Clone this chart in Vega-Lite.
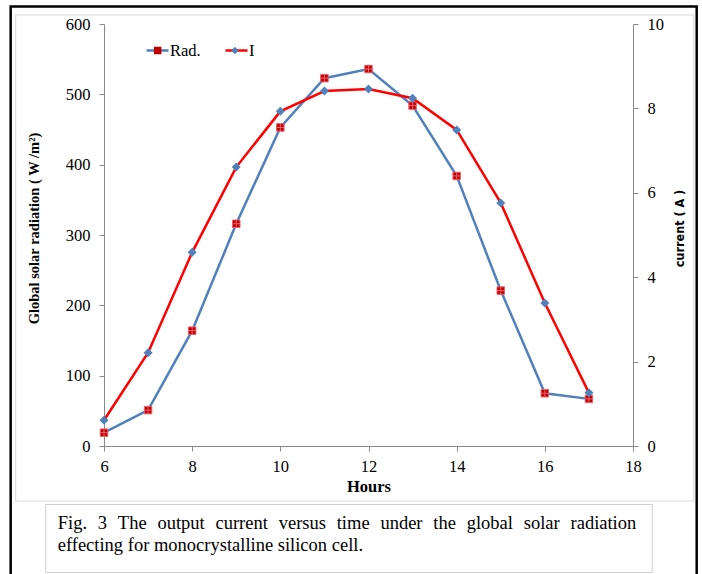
{
  "$schema": "https://vega.github.io/schema/vega-lite/v6.json",
  "width": 529,
  "height": 422,
  "autosize": {"type": "none"},
  "padding": {"left": 104, "top": 24, "right": 69, "bottom": 128},
  "background": "white",
  "config": {"view": {"stroke": null}, "font": "Liberation Serif"},
  "data": {
    "values": [
      {"hour": 6, "rad": 19, "current": 0.61},
      {"hour": 7, "rad": 51, "current": 2.21},
      {"hour": 8, "rad": 164, "current": 4.59},
      {"hour": 9, "rad": 316, "current": 6.61},
      {"hour": 10, "rad": 453, "current": 7.93},
      {"hour": 11, "rad": 523, "current": 8.41},
      {"hour": 12, "rad": 536, "current": 8.46},
      {"hour": 13, "rad": 484, "current": 8.24},
      {"hour": 14, "rad": 384, "current": 7.49},
      {"hour": 15, "rad": 221, "current": 5.76},
      {"hour": 16, "rad": 75, "current": 3.39},
      {"hour": 17, "rad": 67, "current": 1.26}
    ]
  },
  "layer": [
    {
      "layer": [
        {
          "data": {"values": [{"frame": "outer"}]},
          "mark": {"type": "rect", "fill": "transparent", "stroke": "#000000", "strokeWidth": 2.5},
          "encoding": {
            "x": {"datum": 3.883, "type": "quantitative", "scale": {"domain": [6, 18], "nice": false}},
            "x2": {"datum": 19.445},
            "y": {"datum": 624.9, "type": "quantitative", "scale": {"domain": [0, 600], "nice": false}},
            "y2": {"datum": -219}
          }
        },
        {
          "data": {"values": [{"frame": "inner"}]},
          "mark": {"type": "rect", "fill": "transparent", "stroke": "#D9D9D9", "strokeWidth": 1},
          "encoding": {
            "x": {"datum": 3.997, "type": "quantitative", "scale": {"domain": [6, 18], "nice": false}},
            "x2": {"datum": 19.377},
            "y": {"datum": 612.8, "type": "quantitative", "scale": {"domain": [0, 600], "nice": false}},
            "y2": {"datum": -78.2}
          }
        },
        {
          "data": {"values": [{"frame": "caption"}]},
          "mark": {"type": "rect", "fill": "transparent", "stroke": "#CFCFCF", "strokeWidth": 1},
          "encoding": {
            "x": {"datum": 4.678, "type": "quantitative", "scale": {"domain": [6, 18], "nice": false}},
            "x2": {"datum": 18.436},
            "y": {"datum": -83.2, "type": "quantitative", "scale": {"domain": [0, 600], "nice": false}},
            "y2": {"datum": -179.9}
          }
        },
        {
          "data": {"values": [{"caption": "Fig.\u2002\u200a3\u2002\u200aThe\u2002\u200aoutput\u2002\u200acurrent\u2002\u200aversus\u2002\u200atime\u2002\u200aunder\u2002\u200athe\u2002\u200aglobal\u2002\u200asolar\u2002\u200aradiation\neffecting for monocrystalline silicon cell."}]},
          "mark": {"type": "text", "align": "left", "baseline": "alphabetic", "lineBreak": "\n", "lineHeight": 22, "font": "Liberation Serif", "fontSize": 18.5, "color": "#000000"},
          "encoding": {
            "text": {"field": "caption", "type": "nominal"},
            "x": {"datum": 4.95, "type": "quantitative", "scale": {"domain": [6, 18], "nice": false}},
            "y": {"datum": -118, "type": "quantitative", "scale": {"domain": [0, 600], "nice": false}}
          }
        },
        {
          "mark": {"type": "line", "strokeWidth": 2.5},
          "encoding": {
            "x": {
              "field": "hour", "type": "quantitative",
              "scale": {"domain": [6, 18], "nice": false},
              "axis": {
                "values": [6, 8, 10, 12, 14, 16, 18], "title": "Hours", "grid": false,
                "labelFlush": false, "labelFont": "Liberation Serif", "labelFontSize": 16.5, "labelColor": "#000000", "labelPadding": 7,
                "tickSize": 5, "tickColor": "#898989", "domainColor": "#898989",
                "titleFont": "Liberation Serif", "titleFontSize": 16.5, "titleFontWeight": "bold", "titleColor": "#000000", "titlePadding": 4
              }
            },
            "y": {
              "field": "rad", "type": "quantitative",
              "scale": {"domain": [0, 600], "nice": false},
              "axis": {
                "values": [0, 100, 200, 300, 400, 500, 600], "title": "Global solar radiation ( W /m²)", "grid": false,
                "labelFlush": false, "labelFont": "Liberation Serif", "labelFontSize": 16.5, "labelColor": "#000000", "labelPadding": 9,
                "tickSize": 5, "tickColor": "#898989", "domainColor": "#898989",
                "titleFont": "Liberation Serif", "titleFontSize": 14.5, "titleFontWeight": "bold", "titleColor": "#000000", "titlePadding": 24, "titleY": 204
              }
            },
            "stroke": {
              "datum": "Rad.", "type": "nominal",
              "scale": {"domain": ["Rad.", "I"], "range": ["#4F81BD", "#FF0000"]},
              "legend": {
                "orient": "none", "legendX": 41, "legendY": 14, "direction": "horizontal", "title": null,
                "symbolType": "stroke", "symbolSize": 484, "symbolStrokeWidth": 2.5,
                "labelFont": "Liberation Serif", "labelFontSize": 16.5, "labelColor": "#000000", "labelOffset": 0,
                "columnPadding": 19, "padding": 0
              }
            }
          }
        },
        {
          "mark": {"type": "point", "filled": true, "opacity": 1, "size": 56, "stroke": "#E8606A", "strokeWidth": 1},
          "encoding": {
            "x": {"field": "hour", "type": "quantitative", "scale": {"domain": [6, 18], "nice": false}},
            "y": {"field": "rad", "type": "quantitative", "scale": {"domain": [0, 600], "nice": false}},
            "fill": {
              "datum": "Rad.", "type": "nominal",
              "scale": {"domain": ["I", "Rad."], "range": ["#4F81BD", "#C00000"]},
              "legend": {
                "orient": "none", "legendX": 45.4, "legendY": 18.2, "values": ["Rad.", "I"], "direction": "horizontal", "title": null,
                "symbolSize": 56, "symbolStrokeWidth": 0, "labelExpr": "''",
                "labelFont": "Liberation Serif", "labelFontSize": 16.5, "labelOffset": 0,
                "columnPadding": 60.3, "padding": 0
              }
            },
            "shape": {
              "datum": "Rad.", "type": "nominal",
              "scale": {"domain": ["I", "Rad."], "range": ["diamond", "M-1,-1H1V1H-1Z M-1,0H1 M0,-1V1"]},
              "legend": {
                "orient": "none", "legendX": 45.4, "legendY": 18.2, "values": ["Rad.", "I"], "direction": "horizontal", "title": null,
                "symbolSize": 56, "symbolStrokeWidth": 0, "labelExpr": "''",
                "labelFont": "Liberation Serif", "labelFontSize": 16.5, "labelOffset": 0,
                "columnPadding": 60.3, "padding": 0
              }
            }
          }
        }
      ]
    },
    {
      "layer": [
        {
          "mark": {"type": "line", "strokeWidth": 2.5},
          "encoding": {
            "x": {"field": "hour", "type": "quantitative", "scale": {"domain": [6, 18], "nice": false}},
            "y": {
              "field": "current", "type": "quantitative",
              "scale": {"domain": [0, 10], "nice": false},
              "axis": {
                "orient": "right", "values": [0, 2, 4, 6, 8, 10], "title": "current ( A )", "grid": false,
                "labelFlush": false, "labelFont": "Liberation Serif", "labelFontSize": 16.5, "labelColor": "#000000", "labelPadding": 9,
                "tickSize": 5, "tickColor": "#898989", "domainColor": "#898989",
                "titleFont": "'Liberation Sans Narrow', 'DejaVu Sans Condensed', 'Liberation Sans', sans-serif", "titleFontSize": 12.5, "titleFontWeight": "bold", "titleColor": "#000000",
                "titleAngle": 270, "titlePadding": 23, "titleY": 204
              }
            },
            "stroke": {
              "datum": "I", "type": "nominal",
              "scale": {"domain": ["Rad.", "I"], "range": ["#4F81BD", "#FF0000"]},
              "legend": {
                "orient": "none", "legendX": 41, "legendY": 14, "direction": "horizontal", "title": null,
                "symbolType": "stroke", "symbolSize": 484, "symbolStrokeWidth": 2.5,
                "labelFont": "Liberation Serif", "labelFontSize": 16.5, "labelColor": "#000000", "labelOffset": 0,
                "columnPadding": 19, "padding": 0
              }
            }
          }
        },
        {
          "mark": {"type": "point", "filled": true, "opacity": 1, "size": 81, "strokeWidth": 0},
          "encoding": {
            "x": {"field": "hour", "type": "quantitative", "scale": {"domain": [6, 18], "nice": false}},
            "y": {"field": "current", "type": "quantitative", "scale": {"domain": [0, 10], "nice": false}},
            "fill": {
              "datum": "I", "type": "nominal",
              "scale": {"domain": ["I", "Rad."], "range": ["#4F81BD", "#C00000"]},
              "legend": {
                "orient": "none", "legendX": 45.4, "legendY": 18.2, "values": ["Rad.", "I"], "direction": "horizontal", "title": null,
                "symbolSize": 56, "symbolStrokeWidth": 0, "labelExpr": "''",
                "labelFont": "Liberation Serif", "labelFontSize": 16.5, "labelOffset": 0,
                "columnPadding": 60.3, "padding": 0
              }
            },
            "shape": {
              "datum": "I", "type": "nominal",
              "scale": {"domain": ["I", "Rad."], "range": ["diamond", "M-1,-1H1V1H-1Z M-1,0H1 M0,-1V1"]},
              "legend": {
                "orient": "none", "legendX": 45.4, "legendY": 18.2, "values": ["Rad.", "I"], "direction": "horizontal", "title": null,
                "symbolSize": 56, "symbolStrokeWidth": 0, "labelExpr": "''",
                "labelFont": "Liberation Serif", "labelFontSize": 16.5, "labelOffset": 0,
                "columnPadding": 60.3, "padding": 0
              }
            }
          }
        }
      ]
    }
  ],
  "resolve": {"scale": {"y": "independent"}}
}
